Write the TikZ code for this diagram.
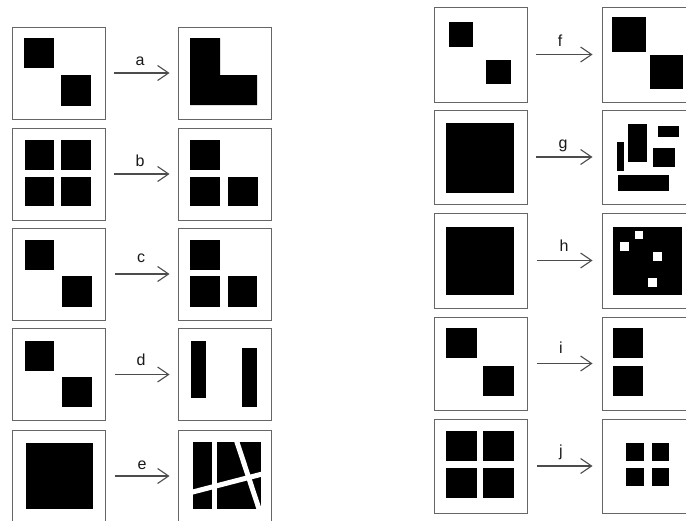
\documentclass[tikz,border=0pt]{standalone}
\usepackage{fontspec}
\setmainfont{Liberation Sans}
\usetikzlibrary{arrows.meta}
\begin{document}
\begin{tikzpicture}[x=1pt,y=-1pt,
  panel/.style={draw=black!60, line width=0.9pt, rectangle, inner sep=0pt, minimum width=93pt, minimum height=92pt},
  conn/.style={draw=black!70, line width=1.1pt, -{Straight Barb[length=11pt,width=15pt,line width=1.1pt]}},
  lbl/.style={font=\fontsize{16}{16}\selectfont, inner sep=0pt, text=black!90},
  blk/.style={fill=black}]
\useasboundingbox (0,0) rectangle (686,520);
\clip (0,0) rectangle (686,520);
% ---------- left column ----------
\node[panel] (la) at (58.5,73) {};
\node[panel] (ra) at (224.5,73) {};
\node[panel] (lb) at (58.5,174) {};
\node[panel] (rb) at (224.5,174) {};
\node[panel] (lc) at (59,274) {};
\node[panel] (rc) at (224.5,274) {};
\node[panel] (ld) at (59,374.5) {};
\node[panel] (rd) at (224.5,374.5) {};
\node[panel] (le) at (59,476) {};
\node[panel] (re) at (224.5,476) {};
% ---------- right column ----------
\node[panel, minimum height=95pt] (lf) at (480.5,54.5) {};
\node[panel, minimum height=95pt] (rf) at (648.5,54.5) {};
\node[panel, minimum height=94pt] (lg) at (480.5,157) {};
\node[panel, minimum height=94pt] (rg) at (648.5,157) {};
\node[panel, minimum height=95pt] (lh) at (481,260.5) {};
\node[panel, minimum height=95pt] (rh) at (648.5,260.5) {};
\node[panel, minimum height=93pt] (li) at (481,363.5) {};
\node[panel, minimum height=93pt] (ri) at (648.5,363.5) {};
\node[panel, minimum height=94pt] (lj) at (481,466) {};
\node[panel, minimum height=94pt] (rj) at (648.5,466) {};
% ---------- connectors ----------
\foreach \p in {a,b,c,d,e}{
  \draw[conn, shorten <=9pt, shorten >=8pt] (l\p) -- (r\p);
}
\foreach \p in {f,g,h,i,j}{
  \draw[conn, shorten <=9pt, shorten >=9pt] (l\p) -- (r\p);
}
% ---------- labels ----------
\node[lbl] (ta) at (140,61) {a};
\node[lbl] (tb) at (140,161) {b};
\node[lbl] (tc) at (141,258) {c};
\node[lbl] (td) at (141,360) {d};
\node[lbl] (te) at (142,465) {e};
\node[lbl] (tf) at (560,41) {f};
\node[lbl] (tg) at (563,146) {g};
\node[lbl] (th) at (564,246) {h};
\node[lbl] (ti) at (561,348) {i};
\node[lbl] (tj) at (561,452) {j};
% ---------- contents: a ----------
\fill[blk] (24,38) rectangle (54,68);
\fill[blk] (61,75) rectangle (91,106);
\fill[blk] (190,38) -- (220,38) -- (220,75) -- (257,75) -- (257,105) -- (190,105) -- cycle;
% b
\fill[blk] (25,140) rectangle (54,170);
\fill[blk] (61,140) rectangle (91,170);
\fill[blk] (25,177) rectangle (54,206);
\fill[blk] (61,177) rectangle (91,206);
\fill[blk] (190,140) rectangle (220,170);
\fill[blk] (190,177) rectangle (220,206);
\fill[blk] (228,177) rectangle (258,206);
% c
\fill[blk] (25,240) rectangle (54,270);
\fill[blk] (62,276) rectangle (92,307);
\fill[blk] (190,240) rectangle (220,270);
\fill[blk] (190,276) rectangle (220,307);
\fill[blk] (228,276) rectangle (257,307);
% d
\fill[blk] (25,341) rectangle (54,371);
\fill[blk] (62,377) rectangle (92,407);
\fill[blk] (191,341) rectangle (206,398);
\fill[blk] (242,348) rectangle (257,407);
% e
\fill[blk] (26,443) rectangle (93,509);
\begin{scope}
  \clip (193,442) rectangle (261,509);
  \fill[blk] (193,442) rectangle (261,509);
  \draw[white, line width=5pt] (214,430) -- (214,520);
  \draw[white, line width=5pt] (233,430) -- (262,518);
  \draw[white, line width=5pt] (185,494) -- (270,472);
\end{scope}
% f
\fill[blk] (449,22) rectangle (473,47);
\fill[blk] (486,60) rectangle (511,84);
\fill[blk] (612,17) rectangle (646,52);
\fill[blk] (650,55) rectangle (683,89);
% g
\fill[blk] (446,123) rectangle (514,193);
\fill[blk] (617,142) rectangle (624,171);
\fill[blk] (628,124) rectangle (647,162);
\fill[blk] (658,126) rectangle (679,137);
\fill[blk] (653,148) rectangle (675,167);
\fill[blk] (618,175) rectangle (669,191);
% h
\fill[blk] (446,227) rectangle (514,295);
\fill[blk] (613,227) rectangle (682,295);
\fill[white] (620,242) rectangle (629,251);
\fill[white] (635,231) rectangle (643,239);
\fill[white] (653,252) rectangle (662,261);
\fill[white] (648,278) rectangle (657,287);
% i
\fill[blk] (446,328) rectangle (477,358);
\fill[blk] (483,366) rectangle (514,396);
\fill[blk] (613,328) rectangle (643,358);
\fill[blk] (613,366) rectangle (643,396);
% j
\fill[blk] (446,431) rectangle (477,461);
\fill[blk] (483,431) rectangle (514,461);
\fill[blk] (446,468) rectangle (477,498);
\fill[blk] (483,468) rectangle (514,498);
\fill[blk] (626,443) rectangle (644,461);
\fill[blk] (652,443) rectangle (669,461);
\fill[blk] (626,468) rectangle (644,486);
\fill[blk] (652,468) rectangle (669,486);
\end{tikzpicture}
\end{document}
